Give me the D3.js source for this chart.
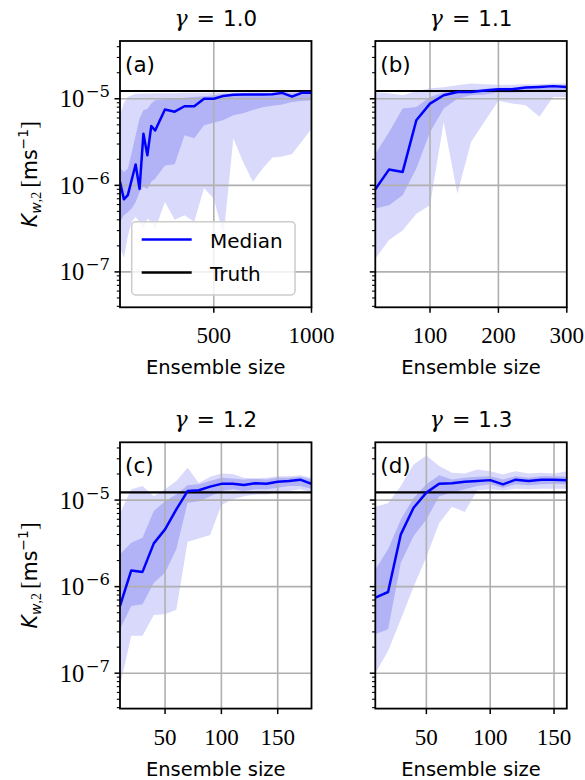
<!DOCTYPE html>
<html>
<head>
<meta charset="utf-8">
<script src="https://cdn.jsdelivr.net/npm/d3@7"></script>
<style>
  body { margin: 0; background: #fff; }
  text { fill: #000; }
</style>
</head>
<body>
<svg id="fig" width="585" height="780"></svg>
<script>
'use strict';

// ---- data ----
var truthValue = 1.23e-5;

var gammaLabels = ['1.0', '1.1', '1.2', '1.3'];
var panelLetters = ['(a)', '(b)', '(c)', '(d)'];

var sizesA = [20, 40, 60, 80, 100, 120, 140, 160, 180, 200, 250, 300, 350, 400, 450, 500, 550, 600, 650, 700, 750, 800, 850, 900, 950, 1000];
var medianA = [1.1e-6, 6.9e-7, 7.7e-7, 1.16e-6, 1.74e-6, 9.1e-7, 3.95e-6, 2.22e-6, 4.84e-6, 4.3e-6, 7.5e-6, 7.1e-6, 8.2e-6, 8.2e-6, 1.0e-5, 1.0e-5, 1.08e-5, 1.11e-5, 1.12e-5, 1.12e-5, 1.12e-5, 1.13e-5, 1.17e-5, 1.06e-5, 1.17e-5, 1.17e-5];
var darkLoA = [3.8e-7, 4.5e-7, 4.9e-7, 5.4e-7, 6.4e-7, 8.4e-7, 9.6e-7, 9.1e-7, 1.1e-6, 1.2e-6, 1.7e-6, 1.75e-6, 3.8e-6, 3.5e-6, 4.95e-6, 5.3e-6, 5.7e-6, 6.45e-6, 6.8e-6, 7.4e-6, 8.0e-6, 8.3e-6, 8.6e-6, 9.2e-6, 9.4e-6, 9.6e-6];
var darkHiA = [1.6e-6, 1.43e-6, 1.55e-6, 2.4e-6, 3.8e-6, 5.9e-6, 7.4e-6, 7.6e-6, 8.8e-6, 9.6e-6, 9.9e-6, 1.0e-5, 1.03e-5, 1.05e-5, 1.07e-5, 1.1e-5, 1.14e-5, 1.14e-5, 1.14e-5, 1.14e-5, 1.14e-5, 1.14e-5, 1.19e-5, 1.16e-5, 1.19e-5, 1.19e-5];
var lightLoA = [1.9e-7, 1.45e-7, 2.6e-7, 3.8e-7, 4.3e-7, 3.8e-7, 3.1e-7, 4.1e-7, 3.8e-7, 3.1e-7, 6.4e-7, 4.0e-7, 4.5e-7, 3.8e-7, 9.3e-7, 7.0e-7, 2.6e-7, 3.5e-6, 1.86e-6, 1.1e-6, 1.56e-6, 2.1e-6, 2.15e-6, 2.3e-6, 3.2e-6, 4.5e-6];
var lightHiA = [6.5e-6, 9.0e-6, 1.05e-5, 1.1e-5, 1.14e-5, 1.14e-5, 1.15e-5, 1.15e-5, 1.15e-5, 1.16e-5, 1.16e-5, 1.16e-5, 1.17e-5, 1.17e-5, 1.17e-5, 1.18e-5, 1.18e-5, 1.18e-5, 1.18e-5, 1.19e-5, 1.19e-5, 1.19e-5, 1.2e-5, 1.2e-5, 1.21e-5, 1.22e-5];

var sizesB = [20, 40, 60, 80, 100, 120, 140, 160, 180, 200, 220, 240, 260, 280, 300];
var medianB = [9.0e-7, 1.52e-6, 1.43e-6, 5.65e-6, 8.8e-6, 1.1e-5, 1.2e-5, 1.2e-5, 1.25e-5, 1.29e-5, 1.29e-5, 1.35e-5, 1.37e-5, 1.4e-5, 1.37e-5];
var darkLoB = [5.4e-7, 5.9e-7, 7.7e-7, 1.56e-6, 4.1e-6, 7.7e-6, 1.0e-5, 1.1e-5, 1.12e-5, 1.18e-5, 1.18e-5, 1.2e-5, 1.2e-5, 1.23e-5, 1.23e-5];
var darkHiB = [2.3e-6, 4.1e-6, 7.7e-6, 8.05e-6, 1.05e-5, 1.18e-5, 1.25e-5, 1.26e-5, 1.31e-5, 1.34e-5, 1.34e-5, 1.39e-5, 1.41e-5, 1.44e-5, 1.42e-5];
var lightLoB = [1.42e-7, 2.33e-7, 3.0e-7, 4.7e-7, 5.9e-7, 5.4e-6, 8.0e-7, 3.17e-6, 5.5e-6, 9.5e-6, 8.8e-6, 8.4e-6, 6.2e-6, 1.05e-5, 1.05e-5];
var lightHiB = [1.19e-5, 1.16e-5, 1.1e-5, 1.22e-5, 1.32e-5, 1.36e-5, 1.43e-5, 1.5e-5, 1.47e-5, 1.45e-5, 1.45e-5, 1.47e-5, 1.47e-5, 1.5e-5, 1.5e-5];

var sizesC = [10, 20, 30, 40, 50, 60, 70, 80, 90, 100, 110, 120, 130, 140, 150, 160, 170, 180];
var medianC = [5.98e-7, 1.54e-6, 1.48e-6, 3.16e-6, 4.59e-6, 7.8e-6, 1.27e-5, 1.3e-5, 1.43e-5, 1.54e-5, 1.54e-5, 1.49e-5, 1.56e-5, 1.54e-5, 1.63e-5, 1.66e-5, 1.72e-5, 1.54e-5];
var darkLoC = [3.22e-7, 5.98e-7, 6.25e-7, 1.11e-6, 1.45e-6, 2.7e-6, 9.3e-6, 9.7e-6, 1.11e-5, 1.27e-5, 1.33e-5, 1.27e-5, 1.33e-5, 1.33e-5, 1.39e-5, 1.45e-5, 1.45e-5, 1.35e-5];
var darkHiC = [2.36e-6, 3.22e-6, 3.67e-6, 7.47e-6, 9.7e-6, 1.16e-5, 1.48e-5, 1.52e-5, 1.66e-5, 1.81e-5, 1.78e-5, 1.73e-5, 1.76e-5, 1.73e-5, 1.81e-5, 1.81e-5, 1.86e-5, 1.73e-5];
var lightLoC = [7.1e-8, 2.7e-7, 2.7e-7, 4.7e-7, 4.8e-7, 5.4e-7, 3.3e-6, 3.6e-6, 3.95e-6, 8.75e-6, 1.02e-5, 1.11e-5, 1.16e-5, 1.16e-5, 1.24e-5, 1.27e-5, 1.33e-5, 1.22e-5];
var lightHiC = [7.0e-6, 1.33e-5, 1.45e-5, 1.11e-5, 1.33e-5, 1.66e-5, 2.36e-5, 1.58e-5, 1.86e-5, 2.03e-5, 2.0e-5, 1.81e-5, 1.78e-5, 1.81e-5, 1.89e-5, 1.89e-5, 1.94e-5, 1.81e-5];

var sizesD = [10, 20, 30, 40, 50, 60, 70, 80, 90, 100, 110, 120, 130, 140, 150, 160];
var medianD = [7.46e-7, 8.67e-7, 4.02e-6, 8.16e-6, 1.22e-5, 1.54e-5, 1.56e-5, 1.63e-5, 1.66e-5, 1.7e-5, 1.52e-5, 1.72e-5, 1.66e-5, 1.72e-5, 1.72e-5, 1.69e-5];
var darkLoD = [2.82e-7, 3.22e-7, 1.89e-6, 3.85e-6, 5.98e-6, 1.11e-5, 1.22e-5, 1.33e-5, 1.45e-5, 1.52e-5, 1.39e-5, 1.52e-5, 1.48e-5, 1.52e-5, 1.54e-5, 1.52e-5];
var darkHiD = [1.58e-6, 2.7e-6, 5.98e-6, 1.06e-5, 1.52e-5, 1.93e-5, 1.73e-5, 1.81e-5, 1.86e-5, 1.89e-5, 1.73e-5, 1.89e-5, 1.81e-5, 1.89e-5, 1.89e-5, 1.86e-5];
var lightLoD = [1.0e-7, 1.8e-7, 4.2e-7, 1.0e-6, 2.2e-6, 5.4e-6, 8.4e-6, 7.3e-6, 1.3e-5, 1.33e-5, 1.3e-5, 1.35e-5, 1.33e-5, 1.35e-5, 1.35e-5, 1.35e-5];
var lightHiD = [8.4e-6, 9.2e-6, 1.45e-5, 2.58e-5, 3.27e-5, 2.47e-5, 2.07e-5, 2.03e-5, 2.26e-5, 2.16e-5, 1.98e-5, 2.16e-5, 2.03e-5, 2.07e-5, 2.03e-5, 2.16e-5];

var xDomains = [[20, 1000], [20, 300], [10, 180], [10, 160]];
var xTickValues = [[500, 1000], [100, 200, 300], [50, 100, 150], [50, 100, 150]];
var yDomain = [3.9e-8, 4.65e-5];
var yMajorTicks = [1e-7, 1e-6, 1e-5];
var yTickExponents = ['7', '6', '5'];

// ---- layout / style ----
var plotWidth = 191.5;
var plotHeight = 266.3;
var colLeft = [120, 375.3];
var rowTop = [41, 442.3];

var lightColor = '#d9d9fb';
var darkColor = '#b2b2f7';
var medianColor = '#0000ff';
var gridColor = '#b0b0b0';
var sansFont = "'DejaVu Sans', sans-serif";
var serifFont = "'Liberation Serif', 'DejaVu Serif', serif";
var mathFont = "'DejaVu Serif', serif";

var panels = [
  { sizes: sizesA, median: medianA, darkLo: darkLoA, darkHi: darkHiA, lightLo: lightLoA, lightHi: lightHiA },
  { sizes: sizesB, median: medianB, darkLo: darkLoB, darkHi: darkHiB, lightLo: lightLoB, lightHi: lightHiB },
  { sizes: sizesC, median: medianC, darkLo: darkLoC, darkHi: darkHiC, lightLo: lightLoC, lightHi: lightHiC },
  { sizes: sizesD, median: medianD, darkLo: darkLoD, darkHi: darkHiD, lightLo: lightLoD, lightHi: lightHiD }
];

var svg = d3.select('#fig');

function minorTicks() {
  var out = [];
  for (var k = -8; k <= -5; k++) {
    for (var m = 2; m <= 9; m++) {
      var v = m * Math.pow(10, k);
      if (v >= yDomain[0] && v <= yDomain[1]) out.push(v);
    }
  }
  return out;
}

function drawPanel(p, i) {
  var left = colLeft[i % 2];
  var top = rowTop[Math.floor(i / 2)];
  var right = left + plotWidth;
  var bottom = top + plotHeight;

  var x = d3.scaleLinear().domain(xDomains[i]).range([left, right]);
  var y = d3.scaleLog().domain(yDomain).range([bottom, top]);
  var g = svg.append('g');

  var clipId = 'clip' + i;
  g.append('clipPath').attr('id', clipId).append('rect')
    .attr('x', left).attr('y', top).attr('width', plotWidth).attr('height', plotHeight);
  var plot = g.append('g').attr('clip-path', 'url(#' + clipId + ')');

  var idx = d3.range(p.sizes.length);
  var band = function (lo, hi) {
    return d3.area()
      .x(function (d) { return x(p.sizes[d]); })
      .y0(function (d) { return y(lo[d]); })
      .y1(function (d) { return y(hi[d]); });
  };
  plot.append('path').attr('d', band(p.lightLo, p.lightHi)(idx)).attr('fill', lightColor);
  plot.append('path').attr('d', band(p.darkLo, p.darkHi)(idx)).attr('fill', darkColor);

  // grid
  plot.selectAll('.gx').data(xTickValues[i]).enter().append('line')
    .attr('x1', function (d) { return x(d); }).attr('x2', function (d) { return x(d); })
    .attr('y1', top).attr('y2', bottom)
    .attr('stroke', gridColor).attr('stroke-width', 1.6);
  plot.selectAll('.gy').data(yMajorTicks).enter().append('line')
    .attr('x1', left).attr('x2', right)
    .attr('y1', function (d) { return y(d); }).attr('y2', function (d) { return y(d); })
    .attr('stroke', gridColor).attr('stroke-width', 1.6);

  // truth and median
  plot.append('line').attr('x1', left).attr('x2', right)
    .attr('y1', y(truthValue)).attr('y2', y(truthValue))
    .attr('stroke', '#000').attr('stroke-width', 2.2);
  var line = d3.line()
    .x(function (d) { return x(p.sizes[d]); })
    .y(function (d) { return y(p.median[d]); });
  plot.append('path').attr('d', line(idx)).attr('fill', 'none')
    .attr('stroke', medianColor).attr('stroke-width', 2.5).attr('stroke-linejoin', 'round');

  // frame
  g.append('rect').attr('x', left).attr('y', top).attr('width', plotWidth).attr('height', plotHeight)
    .attr('fill', 'none').attr('stroke', '#000').attr('stroke-width', 1.8);

  // x ticks
  g.selectAll('.tx').data(xTickValues[i]).enter().append('line')
    .attr('x1', function (d) { return x(d); }).attr('x2', function (d) { return x(d); })
    .attr('y1', bottom).attr('y2', bottom + 5.5)
    .attr('stroke', '#000').attr('stroke-width', 1.5);
  g.selectAll('.lx').data(xTickValues[i]).enter().append('text')
    .attr('x', function (d) { return x(d); }).attr('y', bottom + 36)
    .attr('text-anchor', 'middle').attr('font-family', serifFont).attr('font-size', 23)
    .text(function (d) { return d; });

  // y ticks
  g.selectAll('.ty').data(yMajorTicks).enter().append('line')
    .attr('x1', left - 5.5).attr('x2', left)
    .attr('y1', function (d) { return y(d); }).attr('y2', function (d) { return y(d); })
    .attr('stroke', '#000').attr('stroke-width', 1.5);
  g.selectAll('.tym').data(minorTicks()).enter().append('line')
    .attr('x1', left - 3.2).attr('x2', left)
    .attr('y1', function (d) { return y(d); }).attr('y2', function (d) { return y(d); })
    .attr('stroke', '#000').attr('stroke-width', 1.1);

  if (i % 2 === 0) {
    var yl = g.selectAll('.ly').data(yMajorTicks).enter().append('text')
      .attr('x', left - 10).attr('y', function (d) { return y(d) + 8.5; })
      .attr('text-anchor', 'end').attr('font-family', serifFont).attr('font-size', 24.5);
    yl.append('tspan').text('10');
    yl.append('tspan').attr('dx', 1.5).attr('dy', -10).attr('font-size', 16.5).attr('font-family', mathFont)
      .text(function (d, j) { return '\u2212' + yTickExponents[j]; });

    // y axis label
    var ylab = g.append('text')
      .attr('transform', 'translate(37,' + (top + plotHeight / 2) + ') rotate(-90)')
      .attr('text-anchor', 'middle').attr('font-family', sansFont).attr('font-size', 20.5);
    ylab.append('tspan').attr('font-style', 'italic').text('K');
    ylab.append('tspan').attr('dy', 4).attr('font-size', 14).attr('font-style', 'italic').text('w');
    ylab.append('tspan').attr('font-size', 14).attr('font-family', serifFont).text(',2');
    ylab.append('tspan').attr('dy', -4).text('\u2009');
    ylab.append('tspan').attr('font-family', serifFont).attr('font-size', 23).text('[');
    ylab.append('tspan').text('ms');
    ylab.append('tspan').attr('dy', -9).attr('font-size', 14).text('\u22121');
    ylab.append('tspan').attr('dy', 9).attr('font-family', serifFont).attr('font-size', 23).text(']');
  }

  // x label
  g.append('text').attr('x', (left + right) / 2).attr('y', bottom + 67)
    .attr('text-anchor', 'middle').attr('font-family', sansFont).attr('font-size', 19.5)
    .text('Ensemble size');

  // title
  var title = g.append('text').attr('x', (left + right) / 2).attr('y', top - 15)
    .attr('text-anchor', 'middle').attr('font-size', 21.4);
  title.append('tspan').attr('font-family', mathFont).attr('font-style', 'italic').attr('font-size', 22).text('\u03b3');
  title.append('tspan').attr('dx', 9).attr('font-family', mathFont).attr('font-size', 22).text('=');
  title.append('tspan').attr('dx', 8).attr('font-family', sansFont).text(gammaLabels[i]);

  // panel letter
  g.append('text').attr('x', left + 5).attr('y', top + 31)
    .attr('font-family', sansFont).attr('font-size', 21.5).text(panelLetters[i]);

  if (i === 0) drawLegend(left, top);
}

function drawLegend(left, top) {
  var lg = svg.append('g');
  lg.append('rect').attr('x', left + 11.7).attr('y', top + 180.7).attr('width', 163.3).attr('height', 73.3)
    .attr('rx', 4).attr('fill', '#fff').attr('fill-opacity', 0.8)
    .attr('stroke', '#cccccc').attr('stroke-width', 1.5);
  var items = [{ label: 'Median', color: medianColor }, { label: 'Truth', color: '#000' }];
  items.forEach(function (it, k) {
    var cy = top + 198.5 + k * 33;
    lg.append('line').attr('x1', left + 21.7).attr('x2', left + 71.7).attr('y1', cy).attr('y2', cy)
      .attr('stroke', it.color).attr('stroke-width', 2.5);
    lg.append('text').attr('x', left + 90).attr('y', cy + 8)
      .attr('font-family', sansFont).attr('font-size', 20).text(it.label);
  });
}

panels.forEach(drawPanel);
</script>
</body>
</html>
